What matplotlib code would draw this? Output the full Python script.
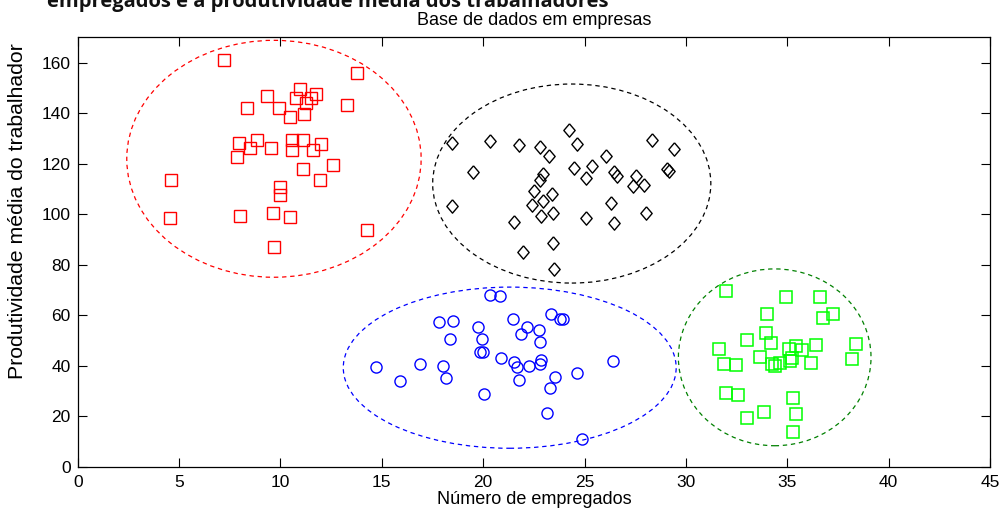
import matplotlib
matplotlib.use("Agg")
import matplotlib.pyplot as plt
from matplotlib.patches import Ellipse

# ---------------- data ----------------
red_x = [7.23, 13.79, 10.97, 11.74, 10.77, 11.52, 9.35, 11.26, 8.37, 9.92, 13.30, 10.47,
         11.18, 7.94, 8.86, 8.50, 9.55, 10.56, 11.12, 10.56, 11.61, 12.02, 7.87, 11.12,
         12.60, 11.95, 4.62, 9.98, 9.98, 4.55, 8.01, 9.62, 10.47, 14.27, 9.70]
red_y = [161.0, 156.0, 149.7, 147.7, 146.1, 146.1, 146.8, 144.1, 142.2, 142.2, 143.1, 138.6,
         139.6, 128.3, 129.2, 126.3, 126.3, 129.2, 129.2, 125.2, 125.2, 127.7, 122.7, 117.8,
         119.3, 113.7, 113.7, 110.7, 107.4, 98.3, 99.4, 100.4, 98.8, 93.9, 86.9]

black_x = [24.24, 18.45, 20.34, 21.76, 22.81, 24.65, 28.32, 23.24, 26.06, 29.43, 19.52, 24.50,
           25.36, 26.47, 26.59, 25.08, 27.54, 29.06, 29.19, 22.94, 22.81, 27.38, 27.95, 22.53,
           23.39, 18.45, 22.41, 22.97, 26.32, 22.87, 23.43, 25.08, 21.54, 26.47, 28.04, 23.43,
           21.98, 23.51]
black_y = [133.3, 128.3, 128.8, 127.2, 126.7, 127.9, 129.3, 123.2, 123.2, 125.9, 116.8, 118.2,
           118.9, 116.6, 115.0, 114.2, 115.0, 117.7, 116.9, 115.7, 113.7, 111.1, 111.7, 109.0,
           107.9, 103.4, 103.7, 105.1, 104.5, 99.4, 100.5, 98.4, 96.8, 96.4, 100.5, 88.6,
           85.0, 78.4]

blue_x = [20.34, 20.83, 17.81, 18.52, 21.46, 23.37, 23.79, 23.96, 19.73, 22.18, 22.74, 21.88,
          18.37, 19.93, 22.81, 19.85, 19.98, 20.90, 14.72, 16.89, 18.02, 21.54, 21.69, 22.25,
          22.86, 22.81, 26.39, 15.90, 18.17, 21.76, 23.53, 24.63, 23.30, 20.04, 23.15, 24.86]
blue_y = [68.1, 67.6, 57.1, 57.5, 58.6, 60.6, 58.6, 58.6, 55.5, 55.3, 54.1, 52.6,
          50.5, 50.5, 49.2, 45.6, 45.6, 43.2, 39.5, 40.6, 39.7, 41.3, 39.4, 39.7,
          42.3, 40.7, 41.7, 34.1, 35.1, 34.3, 35.6, 37.2, 31.1, 28.6, 21.3, 10.9]

green_x = [31.98, 34.93, 36.62, 34.02, 37.26, 36.75, 33.94, 33.03, 34.22, 31.62, 35.42, 35.09,
           35.72, 36.41, 38.38, 33.66, 35.22, 35.14, 31.90, 32.46, 34.25, 34.39, 34.65, 36.19,
           38.18, 31.98, 32.59, 35.29, 35.42, 33.87, 33.03, 35.29]
green_y = [69.4, 67.0, 67.0, 60.6, 60.6, 59.0, 53.0, 50.0, 49.1, 46.6, 47.6, 46.6,
           46.2, 48.2, 48.6, 43.6, 43.1, 41.8, 40.6, 40.1, 40.6, 39.7, 41.0, 41.1,
           42.6, 29.2, 28.2, 27.3, 20.8, 21.7, 19.2, 13.8]

# cluster ellipses: centre x, centre y, full width, full height
ell_cx = [9.68, 24.37, 21.31, 34.38]
ell_cy = [121.9, 112.1, 39.2, 43.3]
ell_w = [14.52, 13.72, 16.42, 9.50]
ell_h = [93.8, 78.8, 63.8, 70.0]
ell_colors = ["#ff0000", "#000000", "#0000ff", "#008000"]

x_ticks = [0, 5, 10, 15, 20, 25, 30, 35, 40, 45]
y_ticks = [0, 20, 40, 60, 80, 100, 120, 140, 160]

title = "Base de dados em empresas"
xlabel = "Número de empregados"
ylabel = "Produtividade média do trabalhador"
top_caption = "empregados e a produtividade média dos trabalhadores"

# ---------------- figure ----------------
plt.rcParams["font.family"] = ["Liberation Sans", "DejaVu Sans"]
W, H = 1001, 511
fig = plt.figure(figsize=(W / 100, H / 100), dpi=100)
ax_l, ax_r, ax_t, ax_b = 77.7, 990.0, 37.3, 466.7
ax = fig.add_axes([ax_l / W, 1 - ax_b / H, (ax_r - ax_l) / W, (ax_b - ax_t) / H])

diamond = [(0, 1), (0.85, 0), (0, -1), (-0.85, 0), (0, 1)]

ax.plot(red_x, red_y, linestyle="none", marker="s", ms=8, mfc="none", mec="#ff0000", mew=1.0)
ax.plot(black_x, black_y, linestyle="none", marker=diamond, ms=9.6, mfc="none", mec="#000000", mew=1.0)
ax.plot(blue_x, blue_y, linestyle="none", marker="o", ms=8, mfc="none", mec="#0000ff", mew=1.0)
ax.plot(green_x, green_y, linestyle="none", marker="s", ms=8, mfc="none", mec="#00ff00", mew=1.1)

for cx, cy, w, h, c in zip(ell_cx, ell_cy, ell_w, ell_h, ell_colors):
    ax.add_patch(Ellipse((cx, cy), w, h, fill=False, edgecolor=c, lw=0.9,
                         linestyle=(0, (3.5, 3.0))))

ax.set_xlim(0, 45)
ax.set_ylim(0, 170)
ax.set_xticks(x_ticks)
ax.set_yticks(y_ticks)
ax.tick_params(direction="in", length=6.5, width=0.8, top=True, right=True,
               labelsize=12.5, pad=5, colors="#000000")
ax.tick_params(axis="x", pad=6)
for s in ax.spines.values():
    s.set_linewidth(0.9)

ax.set_title(title, fontsize=13, pad=8.9)
ax.set_xlabel(xlabel, fontsize=13)
ax.set_ylabel(ylabel, fontsize=15.3)
ax.xaxis.set_label_coords(0.5, (ax_b - 490.5) / (ax_b - ax_t))
ax.xaxis.label.set_va("top")
ax.yaxis.set_label_coords((27 - ax_l) / (ax_r - ax_l), (ax_b - 211.5) / (ax_b - ax_t))
ax.yaxis.label.set_va("bottom")

fig.text(46.7 / W, 1 - 7.0 / H, top_caption, fontsize=14.5, fontweight="bold",
         family=["Open Sans", "DejaVu Sans"], va="baseline", ha="left", color="#111111")

fig.savefig("out.png", dpi=100)
